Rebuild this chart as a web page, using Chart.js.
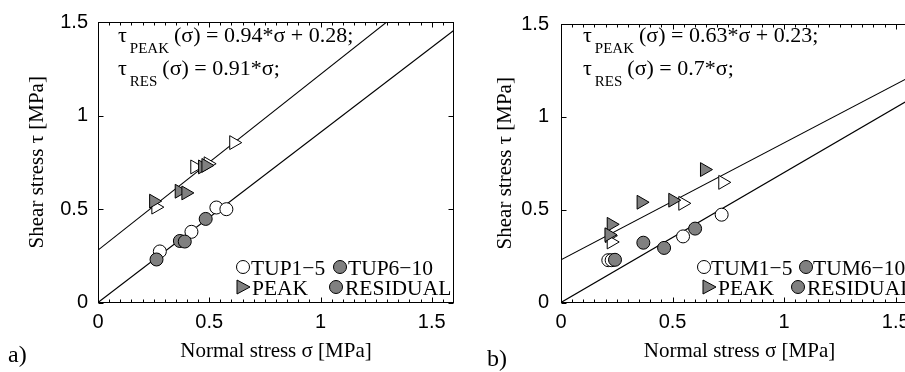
<!DOCTYPE html>
<html><head><meta charset="utf-8">
<script src="https://cdn.jsdelivr.net/npm/chart.js@4.4.0/dist/chart.umd.min.js"></script>
<style>
html,body{margin:0;padding:0;background:#fff;overflow:hidden;width:905px;height:372px;position:relative;}
#wrapA{position:absolute;left:0;top:0;width:463px;height:372px;}
#wrapB{position:absolute;left:463px;top:0;width:470px;height:372px;}
</style></head><body>
<div id="wrapA"><canvas id="cA"></canvas></div>
<div id="wrapB"><canvas id="cB"></canvas></div>
<script>
// ---------------- data ----------------
const xRange = [0, 1.6];
const yRange = [0, 1.5];
const xTicks = [0, 0.5, 1, 1.5];
const xTickLabels = ['0', '0.5', '1', '1.5'];
const yTicks = [0, 0.5, 1, 1.5];
const yTickLabels = ['0', '0.5', '1', '1.5'];
const xMinorTicks = [0.05,0.1,0.15,0.2,0.25,0.3,0.35,0.4,0.45,0.55,0.6,0.65,0.7,0.75,0.8,0.85,0.9,0.95,1.05,1.1,1.15,1.2,1.25,1.3,1.35,1.4,1.45,1.55];

// panel a) TUP
const tupPeakOpenX   = [0.26, 0.435, 0.495, 0.61];
const tupPeakOpenY   = [0.51, 0.725, 0.742, 0.855];
const tupPeakFilledX = [0.25, 0.365, 0.395, 0.47, 0.485];
const tupPeakFilledY = [0.542, 0.595, 0.586, 0.725, 0.733];
const tupResOpenX    = [0.278, 0.42, 0.532, 0.577];
const tupResOpenY    = [0.273, 0.378, 0.508, 0.499];
const tupResFilledX  = [0.263, 0.368, 0.39, 0.484];
const tupResFilledY  = [0.230, 0.329, 0.326, 0.447];
const tupFitPeak = [0.94, 0.28];   // slope, intercept
const tupFitRes  = [0.91, 0];

// panel b) TUM
const tumPeakOpenX   = [0.725, 0.546, 0.217, 0.225];
const tumPeakOpenY   = [0.647, 0.534, 0.360, 0.326];
const tumPeakFilledX = [0.643, 0.359, 0.501, 0.225, 0.215];
const tumPeakFilledY = [0.716, 0.540, 0.551, 0.421, 0.365];
const tumResOpenX    = [0.72, 0.547, 0.212, 0.227];
const tumResOpenY    = [0.473, 0.356, 0.228, 0.228];
const tumResFilledX  = [0.601, 0.369, 0.462, 0.242];
const tumResFilledY  = [0.398, 0.322, 0.294, 0.230];
const tumFitPeak = [0.63, 0.23];
const tumFitRes  = [0.7, 0];

const legendA = ['TUP1\u22125', 'TUP6\u221210', 'PEAK', 'RESIDUAL'];
const legendB = ['TUM1\u22125', 'TUM6\u221210', 'PEAK', 'RESIDUAL'];
const xTitle = 'Normal stress \u03c3 [MPa]';
const yTitle = 'Shear stress \u03c4 [MPa]';

// ---------------- helpers ----------------
const GRAY = '#808080';
const SERIF = "'Liberation Serif', 'Times New Roman', serif";
const SANS = "'Liberation Sans', Arial, sans-serif";
const pts = (xs, ys) => xs.map((x, i) => ({x: x, y: ys[i]}));
const fitLine = (f) => [{x: xRange[0], y: f[0]*xRange[0] + f[1]}, {x: xRange[1], y: f[0]*xRange[1] + f[1]}];
const eqText = (f) => '(\u03c3) = ' + f[0] + '*\u03c3' + (f[1] ? ' + ' + f[1] : '') + ';';

function drawMarker(ctx, kind, cx, cy) {
  ctx.save();
  ctx.lineWidth = 1; ctx.strokeStyle = '#000';
  ctx.beginPath();
  if (kind === 'tri') {
    ctx.moveTo(cx - 6, cy - 7); ctx.lineTo(cx + 7, cy); ctx.lineTo(cx - 6, cy + 7); ctx.closePath();
    ctx.fillStyle = GRAY; ctx.fill();
  } else {
    ctx.arc(cx, cy, 6.5, 0, Math.PI*2);
    ctx.fillStyle = kind === 'open' ? '#fff' : GRAY; ctx.fill();
  }
  ctx.stroke();
  ctx.restore();
}

const decor = {
  id: 'decor',
  afterDraw(chart, args, o) {
    const ctx = chart.ctx, a = chart.chartArea;
    const xs = chart.scales.x, ys = chart.scales.y;
    const L = Math.round(a.left) + 0.5, R = Math.round(a.right) - 0.5;
    const T = Math.round(a.top) + 0.5, B = Math.round(a.bottom) - 0.5;
    ctx.save();
    ctx.strokeStyle = '#000'; ctx.lineWidth = 1;
    ctx.strokeRect(L, T, R - L, B - T);
    ctx.beginPath();
    xTicks.forEach(v => { const p = Math.round(xs.getPixelForValue(v)) + 0.5;
      ctx.moveTo(p, B); ctx.lineTo(p, B - 5); ctx.moveTo(p, T); ctx.lineTo(p, T + 5); });
    xMinorTicks.forEach(v => { const p = Math.round(xs.getPixelForValue(v)) + 0.5;
      ctx.moveTo(p, B); ctx.lineTo(p, B - 3); ctx.moveTo(p, T); ctx.lineTo(p, T + 3); });
    yTicks.forEach(v => { const p = Math.round(ys.getPixelForValue(v)) + 0.5;
      ctx.moveTo(L, p); ctx.lineTo(L + 5, p); ctx.moveTo(R, p); ctx.lineTo(R - 5, p); });
    ctx.stroke();

    // equations
    ctx.fillStyle = '#000'; ctx.textBaseline = 'alphabetic'; ctx.textAlign = 'left';
    o.eqs.forEach(e => {
      const x0 = a.left + o.eqX;
      ctx.font = '22px ' + SERIF;
      ctx.fillText('\u03c4', x0, e.y);
      let x = x0 + ctx.measureText('\u03c4').width + 3;
      ctx.font = '15px ' + SERIF;
      ctx.fillText(e.sub, x, e.y + 11);
      x += ctx.measureText(e.sub).width + 5;
      ctx.font = '22px ' + SERIF;
      ctx.fillText(e.text, x, e.y);
    });

    // legend
    ctx.font = '21.5px ' + SERIF;
    o.legend.forEach(it => {
      drawMarker(ctx, it.kind, it.mx, it.y);
      ctx.fillStyle = '#000';
      ctx.fillText(it.label, it.tx, it.y + 8);
    });

    // panel letter
    ctx.font = '24px ' + SERIF;
    ctx.fillText(o.letter, o.letterX, o.letterY);
    ctx.restore();
  }
};

function makeChart(id, cfg) {
  return new Chart(document.getElementById(id), {
    type: 'scatter',
    data: { datasets: [
      { data: pts(cfg.peakFX, cfg.peakFY), pointStyle: 'triangle', pointRotation: 90, pointRadius: 8,
        backgroundColor: GRAY, borderColor: '#000', borderWidth: 1, order: 1 },
      { data: pts(cfg.resFX, cfg.resFY), pointStyle: 'circle', pointRadius: 6.5,
        backgroundColor: GRAY, borderColor: '#000', borderWidth: 1, order: 1 },
      { data: pts(cfg.peakOX, cfg.peakOY), pointStyle: 'triangle', pointRotation: 90, pointRadius: 8,
        backgroundColor: '#fff', borderColor: '#000', borderWidth: 1, order: 2 },
      { data: pts(cfg.resOX, cfg.resOY), pointStyle: 'circle', pointRadius: 6.5,
        backgroundColor: '#fff', borderColor: '#000', borderWidth: 1, order: 2 },
      { data: fitLine(cfg.fitPeak), showLine: true, pointRadius: 0, borderColor: '#000', borderWidth: 1.1, order: 3 },
      { data: fitLine(cfg.fitRes), showLine: true, pointRadius: 0, borderColor: '#000', borderWidth: 1.1, order: 3 }
    ]},
    options: {
      responsive: true, maintainAspectRatio: false, animation: false, events: [],
      layout: { padding: { left: 0, top: 14.5, right: cfg.padRight, bottom: 0 } },
      plugins: {
        legend: { display: false }, tooltip: { enabled: false },
        decor: cfg.decor
      },
      scales: {
        x: {
          type: 'linear', min: xRange[0], max: xRange[1],
          grid: { display: false, drawTicks: false, tickLength: 0 }, border: { display: false },
          afterBuildTicks: s => { s.ticks = xTicks.map(v => ({value: v})); },
          ticks: { font: { family: SANS, size: 20 }, color: '#000', padding: 8, maxRotation: 0, autoSkip: false,
                   callback: (v, i) => xTickLabels[i] },
          title: { display: true, text: xTitle, color: '#000', font: { family: SERIF, size: 21 },
                   padding: { top: 0, bottom: 8 } },
          afterFit: s => { s.height = 69.5; }
        },
        y: {
          type: 'linear', min: yRange[0], max: yRange[1],
          grid: { display: false, drawTicks: false, tickLength: 0 }, border: { display: false },
          afterBuildTicks: s => { s.ticks = yTicks.map(v => ({value: v})); },
          ticks: { font: { family: SANS, size: 20 }, color: '#000', padding: cfg.yTickPad, autoSkip: false,
                   callback: (v, i) => yTickLabels[i] },
          title: { display: true, text: yTitle, color: '#000', font: { family: SERIF, size: 21 },
                   padding: { top: cfg.yTitlePad, bottom: 0 } },
          afterFit: s => { s.width = 98; }
        }
      }
    },
    plugins: [decor]
  });
}

makeChart('cA', {
  peakFX: tupPeakFilledX, peakFY: tupPeakFilledY, resFX: tupResFilledX, resFY: tupResFilledY,
  peakOX: tupPeakOpenX, peakOY: tupPeakOpenY, resOX: tupResOpenX, resOY: tupResOpenY,
  fitPeak: tupFitPeak, fitRes: tupFitRes, padRight: 8, yTickPad: 10, yTitlePad: 25,
  decor: {
    eqX: 20,
    eqs: [ { sub: 'PEAK', text: eqText(tupFitPeak), y: 42 }, { sub: 'RES', text: eqText(tupFitRes), y: 75 } ],
    legend: [
      { kind: 'open', mx: 243, tx: 251, y: 267, label: legendA[0] },
      { kind: 'fill', mx: 340, tx: 348, y: 267, label: legendA[1] },
      { kind: 'tri',  mx: 243, tx: 252, y: 287, label: legendA[2] },
      { kind: 'fill', mx: 336, tx: 345, y: 287, label: legendA[3] }
    ],
    letter: 'a)', letterX: 8, letterY: 362
  }
});

makeChart('cB', {
  peakFX: tumPeakFilledX, peakFY: tumPeakFilledY, resFX: tumResFilledX, resFY: tumResFilledY,
  peakOX: tumPeakOpenX, peakOY: tumPeakOpenY, resOX: tumResOpenX, resOY: tumResOpenY,
  fitPeak: tumFitPeak, fitRes: tumFitRes, padRight: 15, yTickPad: 12, yTitlePad: 30,
  decor: {
    eqX: 22,
    eqs: [ { sub: 'PEAK', text: eqText(tumFitPeak), y: 42 }, { sub: 'RES', text: eqText(tumFitRes), y: 75 } ],
    legend: [
      { kind: 'open', mx: 241, tx: 248, y: 267, label: legendB[0] },
      { kind: 'fill', mx: 343, tx: 350, y: 267, label: legendB[1] },
      { kind: 'tri',  mx: 246, tx: 255, y: 287, label: legendB[2] },
      { kind: 'fill', mx: 335, tx: 344, y: 287, label: legendB[3] }
    ],
    letter: 'b)', letterX: 24, letterY: 366
  }
});
</script>
</body></html>
